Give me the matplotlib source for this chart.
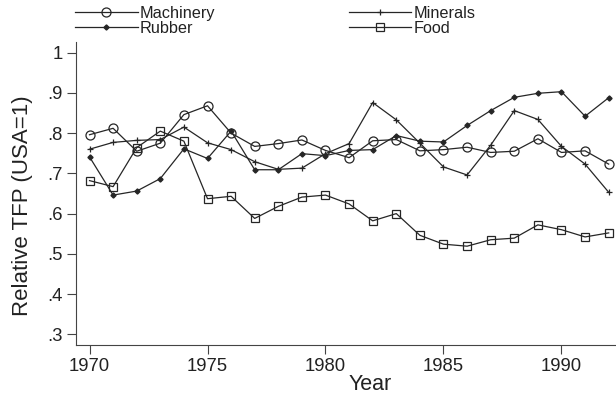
import matplotlib
matplotlib.use("Agg")
import matplotlib.pyplot as plt

plt.rcParams['font.family'] = ['Liberation Sans', 'DejaVu Sans']

# Data
years = list(range(1970, 1993))

machinery = [0.796, 0.812, 0.755, 0.775, 0.846, 0.868, 0.800, 0.767, 0.774, 0.783, 0.757,
             0.739, 0.781, 0.784, 0.756, 0.759, 0.765, 0.752, 0.755, 0.786, 0.752, 0.756, 0.723]
rubber = [0.741, 0.646, 0.656, 0.687, 0.761, 0.737, 0.805, 0.709, 0.709, 0.749, 0.744,
          0.757, 0.759, 0.794, 0.780, 0.778, 0.819, 0.856, 0.889, 0.899, 0.903, 0.842, 0.888]
minerals = [0.760, 0.777, 0.782, 0.784, 0.815, 0.776, 0.759, 0.729, 0.710, 0.713, 0.749,
            0.774, 0.876, 0.833, 0.775, 0.716, 0.696, 0.770, 0.856, 0.834, 0.767, 0.723, 0.653]
food = [0.682, 0.667, 0.764, 0.805, 0.780, 0.637, 0.643, 0.588, 0.618, 0.641, 0.646,
        0.624, 0.582, 0.600, 0.546, 0.524, 0.519, 0.535, 0.539, 0.572, 0.560, 0.542, 0.552]

y_ticks = [0.3, 0.4, 0.5, 0.6, 0.7, 0.8, 0.9, 1.0]
y_tick_labels = ['.3', '.4', '.5', '.6', '.7', '.8', '.9', '1']
x_ticks = [1970, 1975, 1980, 1985, 1990]

line_color = '#262626'

fig = plt.figure(figsize=(6.16, 4.0), dpi=100)
ax = fig.add_axes([0.1229, 0.1375, 1 - 0.1229, 0.8958 - 0.1375])

ax.plot(years, machinery, color=line_color, lw=0.9, marker='o', ms=6.5,
        mfc='none', mec=line_color, mew=0.9, label='Machinery')
ax.plot(years, rubber, color=line_color, lw=0.9, marker='D', ms=2.6,
        mfc=line_color, mec=line_color, label='Rubber')
ax.plot(years, minerals, color=line_color, lw=0.9, marker='+', ms=5,
        mec=line_color, mew=0.9, label='Minerals')
ax.plot(years, food, color=line_color, lw=0.9, marker='s', ms=6,
        mfc='none', mec=line_color, mew=0.9, label='Food')

## Axes
ax.set_xlim(1969.415, 1992.31)
ax.set_ylim(0.2734, 1.0273)
ax.set_xticks(x_ticks)
ax.set_yticks(y_ticks)
ax.set_yticklabels(y_tick_labels)
ax.tick_params(axis='both', direction='out', length=6.5, width=0.8,
               color='#444444', labelsize=13.3, labelcolor='#222222', pad=3)

for side in ['top', 'right']:
    ax.spines[side].set_visible(False)
for side in ['left', 'bottom']:
    ax.spines[side].set_color('#444444')
    ax.spines[side].set_linewidth(0.8)

# label anchor is the right edge of the rotated text
ax.set_ylabel('Relative TFP (USA=1)', fontsize=16, color='#222222')
ax.yaxis.set_label_coords((33 - 75.7) / 540.3, 0.46)
ax.set_xlabel('Year', fontsize=15.5, color='#222222')
ax.xaxis.set_label_coords((370 - 75.7) / 540.3, -0.095)

## Legend
handles, labels = ax.get_legend_handles_labels()
fig.legend(handles, labels, ncol=2, loc='upper left',
           bbox_to_anchor=(75 / 616, 1 - 6 / 400), frameon=False,
           fontsize=11.7, handlelength=3.85, handletextpad=0.15,
           columnspacing=8.2, labelspacing=0.0, borderpad=0, borderaxespad=0,
           labelcolor='#222222')

fig.savefig('out.png', dpi=100)
